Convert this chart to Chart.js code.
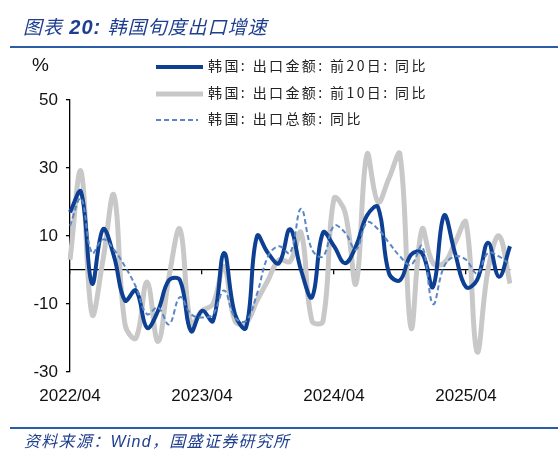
<!DOCTYPE html>
<html>
<head>
<meta charset="utf-8">
<script src="https://cdn.jsdelivr.net/npm/chart.js@4/dist/chart.umd.min.js"></script>
<style>
  html, body { margin: 0; padding: 0; background: #fff; }
  #wrap { position: relative; width: 558px; height: 460px; overflow: hidden; }
  #chart { position: absolute; left: 0; top: 0; }
  .abs { position: absolute; white-space: nowrap; }
  .title { left: 23px; top: 15px; height: 24px; line-height: 24px; font-size: 19px; color: #1e3f8f;
           font-style: italic; font-family: "Liberation Sans", "Noto Sans CJK SC", sans-serif; letter-spacing: 1px; }
  .title b { font-size: 20px; }
  .rule { left: 10px; width: 548px; height: 2px; background: #2b5ca6; }
  .source { left: 24px; top: 432px; height: 20px; line-height: 20px; font-size: 16px; color: #1e3f8f;
            font-style: italic; font-family: "Liberation Sans", "Noto Sans CJK SC", sans-serif; letter-spacing: 1.3px; }
  .pct { left: 32px; top: 54px; height: 22px; line-height: 22px; font-size: 19px; color: #111;
         font-family: "Liberation Sans", Arial, sans-serif; }
  .leg { left: 156px; height: 20px; line-height: 20px; font-size: 14px; color: #222;
         font-family: "Noto Sans CJK SC", sans-serif; letter-spacing: 2.4px; }
  .leg svg { vertical-align: middle; margin-right: 5px; }
</style>
</head>
<body>
<div id="wrap">
  <canvas id="chart" width="558" height="460"></canvas>
  <div class="abs title">图表 <b>20:</b> 韩国旬度出口增速</div>
  <div class="abs rule" style="top:46px"></div>
  <div class="abs pct">%</div>
  <div id="legend"></div>
  <div class="abs rule" style="top:427px"></div>
  <div class="abs source">资料来源：Wind，国盛证券研究所</div>
</div>
<script>
const months = [
  '2022/04', '2022/05', '2022/06', '2022/07', '2022/08', '2022/09', '2022/10', '2022/11', '2022/12',
  '2023/01', '2023/02', '2023/03', '2023/04', '2023/05', '2023/06', '2023/07', '2023/08', '2023/09',
  '2023/10', '2023/11', '2023/12', '2024/01', '2024/02', '2024/03', '2024/04', '2024/05', '2024/06',
  '2024/07', '2024/08', '2024/09', '2024/10', '2024/11', '2024/12', '2025/01', '2025/02', '2025/03',
  '2025/04', '2025/05', '2025/06', '2025/07', '2025/08'
];

// 前20日出口金额同比
const first20 = [17, 23, -4, 12, 4, -9, -6, -17, -12, -3, -3, -18, -12, -15, 5, -13, -17, 10, 5, 2,
  12, 0, -8, 11, 7, 2, 7, 16, 18.5, -1, -3, 4.5, 5, -5, 16, 5, -5, -3, 8, -2, 7];
// 前10日出口金额同比
const first10 = [3, 29, -13, 3, 22, -16, -20, -3.5, -21, -2, 12, -16, -12, -10, 1, -15, -15.5, -9, -3, 3,
  2.5, 11, -15, -15, 21, 17, -4, 34, 20, 27, 34, -17, 12, 2, 2, 8, 14, -24, 0, 10, -4];
// 出口总额同比
const totalExport = [13, 21, 5, 9, 6, 1, -5, -13, -11, -16, -8, -13, -14, -13, -6, -14, -15, -7, 4, 7,
  5, 18, 6, 4, 13, 11, 6, 14, 12, 8, 4, 1.5, 7, -10, 1, 4, 3, -1, 5, 4, 1.5];

const yTicks = [-30, -10, 10, 30, 50];

const seriesNames = ['韩国: 出口金额: 前20日: 同比', '韩国: 出口金额: 前10日: 同比', '韩国: 出口总额: 同比'];

const ctx = document.getElementById('chart').getContext('2d');
const chart = new Chart(ctx, {
  type: 'line',
  data: {
    labels: months,
    datasets: [
      {
        label: seriesNames[0],
        data: first20,
        borderColor: '#0d3f93',
        borderWidth: 4,
        pointRadius: 0,
        tension: 0.4,
        order: 2
      },
      {
        label: seriesNames[1],
        data: first10,
        borderColor: '#c8c8c8',
        borderWidth: 5,
        pointRadius: 0,
        tension: 0.4,
        order: 3
      },
      {
        label: seriesNames[2],
        data: totalExport,
        borderColor: '#5a86c5',
        borderWidth: 2,
        borderDash: [5, 3],
        pointRadius: 0,
        tension: 0.4,
        order: 1
      }
    ]
  },
  options: {
    responsive: false,
    animation: false,
    events: [],
    layout: { padding: { left: 0, right: 48, top: 100, bottom: 48 } },
    plugins: { legend: { display: false }, tooltip: { enabled: false } },
    scales: {
      x: {
        type: 'category',
        position: 'bottom',
        grid: { display: false, drawTicks: false },
        border: { display: false },
        ticks: {
          autoSkip: false,
          maxRotation: 0,
          padding: 14,
          color: '#111',
          font: { family: '"Liberation Sans", Arial, sans-serif', size: 17 },
          callback: (v, i) => (i % 12 === 0 ? months[i] : '')
        },
        afterFit: s => { s.height = 40; }
      },
      x2: {
        type: 'category',
        position: { y: 0 },
        grid: {
          drawOnChartArea: false,
          drawTicks: true,
          tickLength: 4,
          lineWidth: 1.3,
          color: c => (c.index % 12 === 0 ? '#000' : 'rgba(0,0,0,0)')
        },
        border: { display: true, color: '#000', width: 1.3 },
        ticks: { display: false }
      },
      y: {
        min: -30,
        max: 50,
        afterBuildTicks: s => { s.ticks = yTicks.map(v => ({ value: v })); },
        grid: { drawOnChartArea: false, drawTicks: true, tickLength: 4, color: '#000', lineWidth: 1.3 },
        border: { display: true, color: '#000', width: 1.3 },
        ticks: {
          padding: 8,
          color: '#111',
          font: { family: '"Liberation Sans", Arial, sans-serif', size: 17 }
        },
        afterFit: s => { s.width = 70; }
      }
    }
  }
});

// legend built from the chart's datasets
const legendTops = [55, 82, 108];
const legendBox = document.getElementById('legend');
chart.data.datasets.forEach((ds, i) => {
  const row = document.createElement('div');
  row.className = 'abs leg';
  row.style.top = legendTops[i] + 'px';
  const dash = ds.borderDash ? ds.borderDash.join(',') : 'none';
  const len = ds.borderDash ? 42 : 47;
  row.innerHTML = '<svg width="47" height="8"><line x1="0" y1="4" x2="' + len + '" y2="4" stroke="' +
    ds.borderColor + '" stroke-width="' + ds.borderWidth + '" stroke-dasharray="' + dash + '"/></svg>' + ds.label;
  legendBox.appendChild(row);
});
</script>
</body>
</html>
